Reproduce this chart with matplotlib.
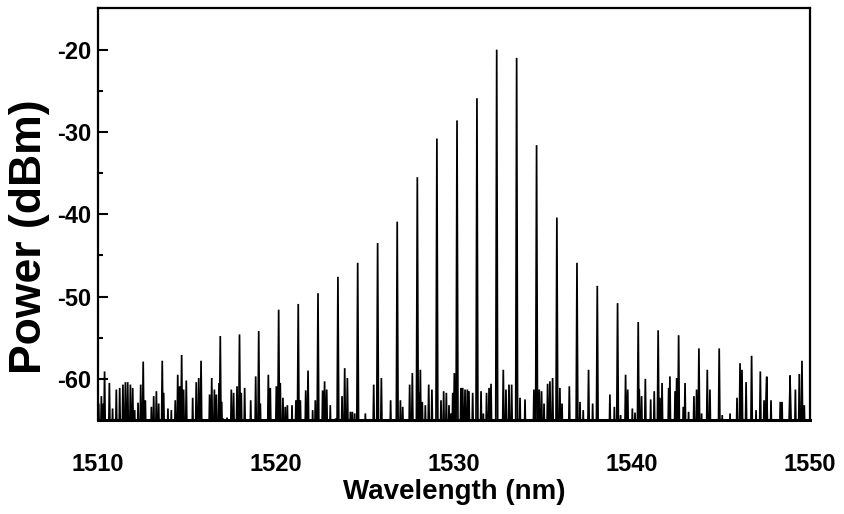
import matplotlib
matplotlib.use("Agg")
import numpy as np
from matplotlib import pyplot as plt

# comb lines (wavelength nm, power dBm)
peak_wl = [1512.54, 1513.61, 1514.70, 1515.79, 1516.87, 1517.95, 1519.03, 1520.15,
           1521.25, 1522.36, 1523.48, 1524.59, 1525.71, 1526.81, 1527.94, 1529.04,
           1530.17, 1531.29, 1532.40, 1533.52, 1534.64, 1535.78, 1536.91, 1538.05,
           1539.19, 1540.35, 1541.47, 1542.62, 1543.76, 1544.90, 1546.07, 1546.72,
           1547.57, 1548.88, 1549.55]
peak_db = [-57.9, -57.8, -57.1, -57.8, -54.8, -54.6, -54.2, -51.6,
           -50.9, -49.6, -47.6, -45.9, -43.5, -40.9, -35.5, -30.8,
           -28.6, -25.9, -20.0, -21.0, -31.6, -40.4, -45.9, -48.7,
           -50.8, -53.1, -54.1, -54.7, -56.3, -56.3, -58.1, -57.2,
           -59.7, -59.6, -57.8]

# noise floor spikes
noise_wl = [1510.04, 1510.19, 1510.30, 1510.37, 1510.64, 1510.82, 1511.03, 1511.22,
            1511.40, 1511.54, 1511.67, 1511.82, 1511.95, 1512.06, 1512.25, 1512.40,
            1512.66, 1513.00, 1513.13, 1513.28, 1513.41, 1513.69, 1513.93, 1514.12,
            1514.34, 1514.48, 1514.59, 1514.81, 1514.96, 1515.32, 1515.52, 1515.66,
            1516.27, 1516.39, 1516.54, 1516.65, 1516.80, 1516.95, 1517.04, 1517.25,
            1517.49, 1517.62, 1517.81, 1518.05, 1518.24, 1518.58, 1518.86, 1519.12,
            1519.57, 1519.68, 1520.02, 1520.24, 1520.39, 1520.52, 1520.64, 1520.90,
            1521.12, 1521.37, 1521.67, 1521.80, 1522.06, 1522.21, 1522.62, 1522.73,
            1522.85, 1523.05, 1523.35, 1523.71, 1523.86, 1524.01, 1524.18, 1524.29,
            1524.42, 1525.02, 1525.49, 1525.92, 1526.44, 1526.99, 1527.12, 1527.51,
            1527.66, 1528.03, 1528.11, 1528.22, 1528.39, 1528.58, 1528.76, 1529.27,
            1529.42, 1529.57, 1529.72, 1529.93,
            1529.83, 1530.02, 1530.39, 1530.49, 1530.62, 1530.75, 1530.84, 1531.05,
            1531.52, 1531.65, 1531.83, 1531.97, 1532.08, 1532.77, 1532.92, 1533.09,
            1533.24, 1533.71, 1533.99, 1534.49, 1534.79, 1534.92, 1535.06, 1535.26,
            1535.39, 1535.54, 1535.95, 1536.07, 1536.48, 1537.08, 1537.26, 1537.56,
            1537.79, 1538.76, 1539.01, 1539.36, 1539.64, 1539.76, 1540.02, 1540.17,
            1540.41, 1540.54, 1540.75, 1541.05, 1541.25, 1541.57, 1541.69, 1542.06,
            1542.13, 1542.42, 1542.51, 1542.88, 1542.98, 1543.18, 1543.48, 1543.63,
            1543.91, 1544.23, 1544.38, 1545.07, 1545.51, 1545.90, 1546.18, 1546.41,
            1546.97, 1547.21, 1547.42, 1547.57, 1547.81, 1548.33, 1548.43, 1548.88,
            1549.18, 1549.40, 1549.68]
noise_db = [-63.0, -62.1, -63.0, -59.1, -60.5, -63.6, -61.3, -61.1,
            -60.7, -60.4, -60.4, -60.7, -61.1, -63.8, -62.9, -60.7,
            -62.6, -63.4, -62.1, -61.5, -63.0, -61.7, -63.6, -63.8,
            -62.6, -59.5, -60.9, -61.3, -60.2, -62.3, -60.4, -59.9,
            -61.9, -59.9, -61.3, -61.9, -60.5, -62.8, -64.8, -64.7,
            -61.3, -61.7, -60.9, -61.7, -61.1, -62.6, -59.7, -63.0,
            -59.5, -61.1, -60.9, -60.5, -62.3, -63.4, -63.2, -63.2,
            -62.6, -62.6, -61.4, -59.0, -63.8, -62.6, -61.4, -60.3,
            -61.3, -63.2, -64.8, -62.1, -58.7, -59.9, -64.0, -64.0,
            -64.2, -64.2, -60.7, -59.9, -62.6, -62.6, -63.4, -60.7,
            -59.3, -61.7, -58.9, -62.8, -63.2, -60.7, -61.3, -62.6,
            -61.5, -61.7, -63.2, -61.7,
            -64.2, -59.3, -61.1, -61.1, -61.3, -61.3, -61.5, -61.7,
            -61.5, -64.2, -61.7, -61.1, -60.6, -58.9, -61.3, -60.7,
            -60.7, -62.3, -62.5, -61.3, -61.3, -61.5, -63.0, -60.6,
            -60.3, -59.9, -61.1, -63.0, -60.9, -62.8, -63.8, -58.9,
            -63.0, -61.9, -63.4, -64.4, -59.5, -61.3, -63.6, -64.1,
            -61.3, -62.1, -60.0, -62.5, -61.5, -62.3, -60.5, -61.1,
            -59.7, -61.5, -59.9, -63.4, -60.5, -64.0, -62.1, -61.3,
            -64.2, -58.9, -61.3, -64.4, -64.2, -62.3, -58.9, -60.4,
            -63.8, -59.1, -62.6, -59.8, -62.6, -62.8, -62.8, -59.6,
            -61.3, -59.4, -63.2]

x_ticks = [1510, 1520, 1530, 1540, 1550]
y_ticks = [-60, -50, -40, -30, -20]

plt.rcParams["font.family"] = ["Liberation Sans", "DejaVu Sans"]
plt.rcParams["font.weight"] = "bold"
plt.rcParams["axes.unicode_minus"] = False

fig = plt.figure(figsize=(8.44, 5.14), dpi=100)
ax = fig.add_axes([0.1161, 0.1829, 0.8436, 0.8006])

floor = -70.0
half = 0.06

# build the trace: every line rises from the floor to its top and back
spikes = sorted(zip(peak_wl + noise_wl, peak_db + noise_db))
xs, ys = [], []
for w, p in spikes:
    xs += [w - half, w, w + half]
    ys += [floor, p, floor]
ax.plot(xs, ys, color="black", lw=1.25, solid_joinstyle="miter")

ax.set_xlim(1510, 1550)
ax.set_ylim(-65, -15)
ax.set_xticks(x_ticks)
ax.set_yticks(y_ticks)
ax.set_yticks(np.arange(-65, -14, 5), minor=True)

ax.tick_params(axis="y", which="major", direction="in", length=7, width=1.5,
               labelsize=17, pad=5)
ax.tick_params(axis="y", which="minor", direction="in", length=3.5, width=1.5)
ax.tick_params(axis="x", which="major", length=0, labelsize=17, pad=24)
for lab in ax.get_xticklabels() + ax.get_yticklabels():
    lab.set_fontweight("bold")

for s in ax.spines.values():
    s.set_linewidth(1.6)
ax.spines["bottom"].set_linewidth(2.2)

ax.set_xlabel("Wavelength (nm)", fontsize=20, fontweight="bold", labelpad=2)
ax.set_ylabel("Power (dBm)", fontsize=32, fontweight="bold")
ax.yaxis.set_label_coords(-0.068, 0.445)

fig.savefig("out.png", dpi=100)
